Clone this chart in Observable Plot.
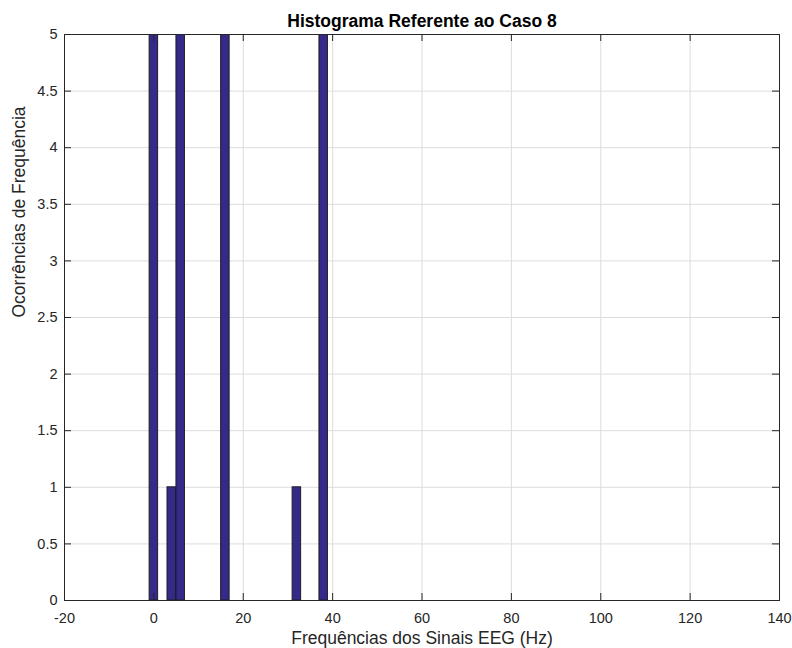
<!DOCTYPE html>
<html>
<head>
<meta charset="utf-8">
<script src="https://cdn.jsdelivr.net/npm/d3@7"></script>
<script src="https://cdn.jsdelivr.net/npm/@observablehq/plot@0.6"></script>
<style>
  html, body { margin: 0; padding: 0; background: #fff; }
  #chart svg { display: block; }
</style>
</head>
<body>
<div id="chart"></div>
<script>
const titleText = "Histograma Referente ao Caso 8";
const xLabel = "Frequências dos Sinais EEG (Hz)";
const yLabel = "Ocorrências de Frequência";

const xTicks = [-20, 0, 20, 40, 60, 80, 100, 120, 140];
const yTicks = [0, 0.5, 1, 1.5, 2, 2.5, 3, 3.5, 4, 4.5, 5];

// histogram bin centres (Hz) and counts (tall bars exceed the axis limit of 5 and are clipped)
const binCenters = [0, 4, 6, 16, 32, 38];
const counts = [6, 1, 6, 6, 1, 6];

const bars = binCenters.map((c, i) => ({c, n: counts[i]}));
const halfW = 0.95;

const W = 792, H = 648;
const mL = 64, mR = 13, mT = 34, mB = 48;
const tickLenX = 7 * (160 / (W - mL - mR));
const tickLenY = 7 * (5 / (H - mT - mB));
const axisCol = "#262626";
const font = "Liberation Sans, Arial, Helvetica, sans-serif";

const chart = Plot.plot({
  width: W,
  height: H,
  marginLeft: mL,
  marginRight: mR,
  marginTop: mT,
  marginBottom: mB,
  style: {fontFamily: font, fontSize: "14px", color: axisCol, background: "#fff"},
  x: {domain: [-20, 140], ticks: xTicks},
  y: {domain: [0, 5], ticks: yTicks},
  marks: [
    Plot.ruleX(xTicks, {stroke: "#dcdcdc", strokeWidth: 1}),
    Plot.ruleY(yTicks, {stroke: "#dcdcdc", strokeWidth: 1}),
    Plot.rectY(bars, {
      x1: d => d.c - halfW, x2: d => d.c + halfW,
      y1: 0, y2: "n",
      fill: "#35298a", stroke: "#1f1f1f", strokeWidth: 1, clip: true
    }),
    // inward ticks on all four sides
    Plot.ruleX(xTicks, {y1: 0, y2: tickLenY, stroke: axisCol}),
    Plot.ruleX(xTicks, {y1: 5, y2: 5 - tickLenY, stroke: axisCol}),
    Plot.ruleY(yTicks, {x1: -20, x2: -20 + tickLenX, stroke: axisCol}),
    Plot.ruleY(yTicks, {x1: 140, x2: 140 - tickLenX, stroke: axisCol}),
    Plot.frame({stroke: axisCol, strokeWidth: 1}),
    Plot.axisX(xTicks, {tickSize: 0, tickPadding: 12, label: null, fill: axisCol, fontSize: 14.5, tickFormat: d => String(d)}),
    Plot.axisY(yTicks, {tickSize: 0, tickPadding: 7, label: null, fill: axisCol, fontSize: 14.5, tickFormat: d => String(d)}),
    Plot.text([titleText], {frameAnchor: "top", lineAnchor: "middle", dy: -13, text: d => d, fontWeight: "bold", fontSize: 17.5, fill: "#000"}),
    Plot.text([xLabel], {frameAnchor: "bottom", lineAnchor: "middle", dy: 37.5, text: d => d, fontSize: 17.5, fill: axisCol}),
    Plot.text([yLabel], {frameAnchor: "left", lineAnchor: "middle", dx: -45, rotate: -90, text: d => d, fontSize: 17.5, fill: axisCol})
  ]
});
document.getElementById("chart").appendChild(chart);
</script>
</body>
</html>
